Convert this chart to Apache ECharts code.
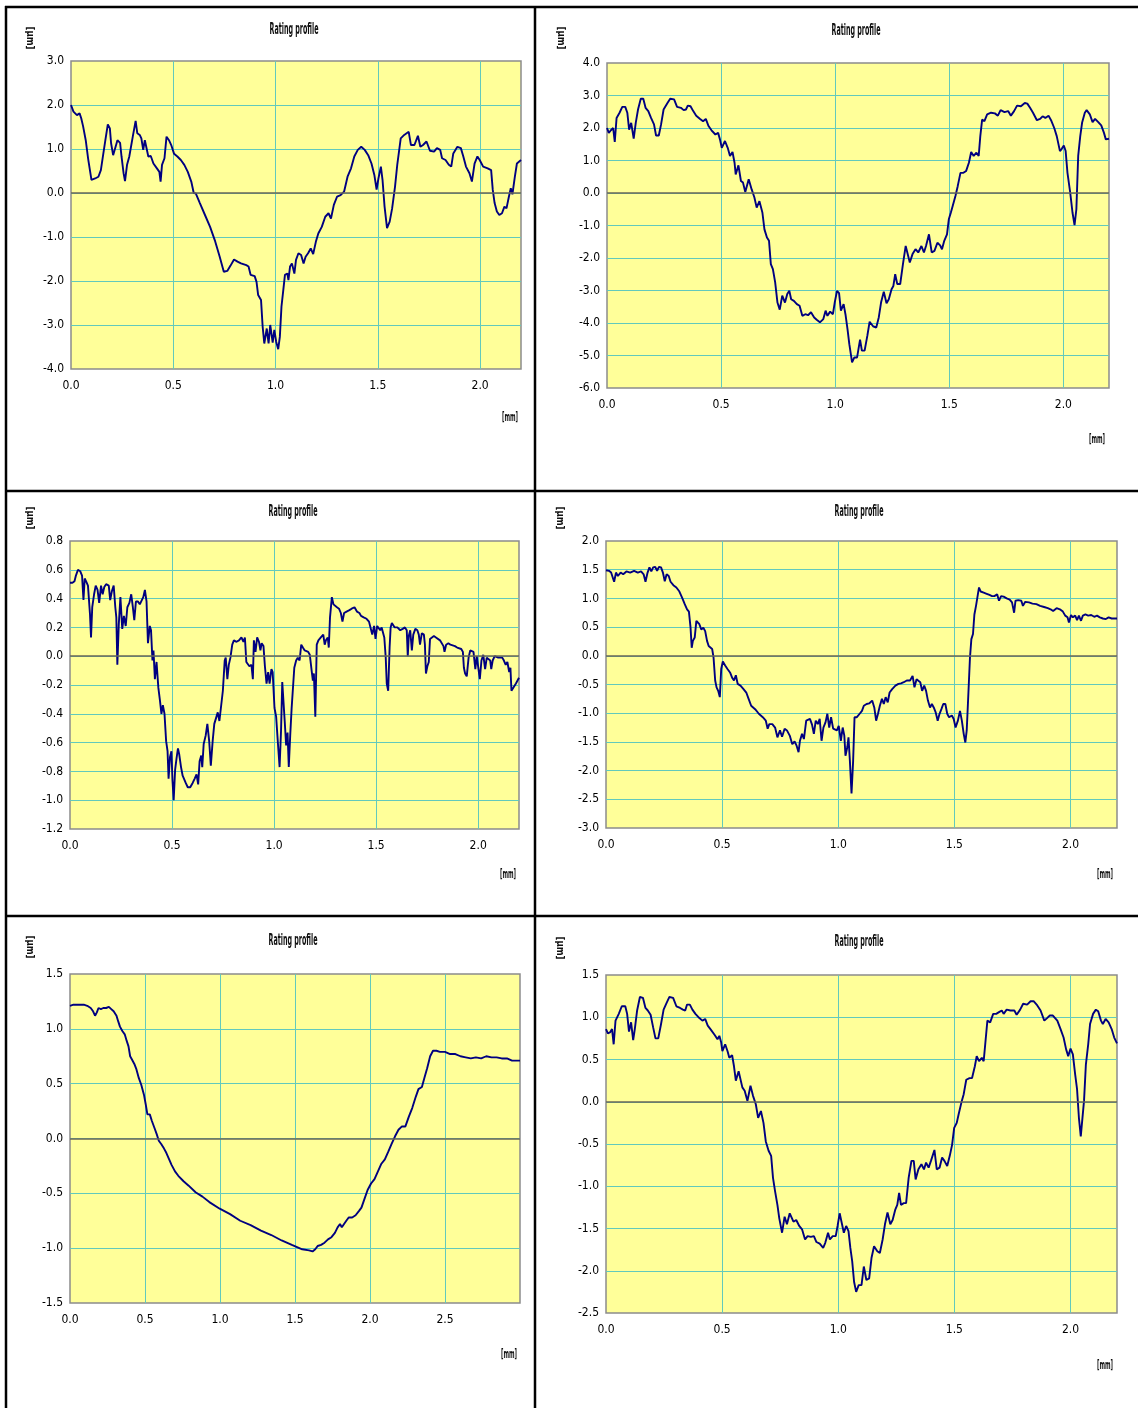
<!DOCTYPE html>
<html>
<head>
<meta charset="utf-8">
<script src="https://cdn.jsdelivr.net/npm/echarts@6/dist/echarts.min.js"></script>
<style>
  html, body { margin: 0; padding: 0; background: #ffffff; }
  #chart { width: 1138px; height: 1408px; }
</style>
</head>
<body>
<div id="chart"></div>
<script>
// Measured roughness profiles: [position mm, height µm]
const profileA = [[0,2.0],[0.012,1.85],[0.029,1.77],[0.042,1.81],[0.05,1.7],[0.059,1.52],[0.072,1.2],[0.084,0.77],[0.092,0.75],[0.1,0.3],[0.118,0.33],[0.134,0.37],[0.146,0.52],[0.156,0.83],[0.168,1.2],[0.18,1.56],[0.19,1.47],[0.196,1.13],[0.206,0.86],[0.218,1.05],[0.227,1.2],[0.24,1.14],[0.247,0.83],[0.257,0.45],[0.264,0.27],[0.274,0.64],[0.285,0.83],[0.302,1.28],[0.316,1.64],[0.324,1.36],[0.336,1.32],[0.344,1.24],[0.353,0.98],[0.361,1.2],[0.37,1.24],[0.378,0.83],[0.39,0.84],[0.403,0.67],[0.42,0.56],[0.432,0.48],[0.438,0.26],[0.445,0.64],[0.457,0.79],[0.467,1.28],[0.479,1.2],[0.49,1.09],[0.504,0.89],[0.52,0.83],[0.537,0.75],[0.554,0.64],[0.571,0.48],[0.588,0.26],[0.6,0.0],[0.61,-0.01],[0.63,-0.23],[0.655,-0.5],[0.68,-0.77],[0.705,-1.1],[0.727,-1.45],[0.747,-1.79],[0.764,-1.77],[0.78,-1.65],[0.797,-1.51],[0.814,-1.56],[0.831,-1.6],[0.857,-1.64],[0.868,-1.67],[0.878,-1.86],[0.898,-1.89],[0.907,-2.02],[0.915,-2.32],[0.929,-2.43],[0.937,-3.04],[0.945,-3.42],[0.957,-3.08],[0.966,-3.42],[0.974,-3.0],[0.986,-3.4],[0.994,-3.11],[1.003,-3.38],[1.013,-3.55],[1.021,-3.27],[1.029,-2.58],[1.038,-2.2],[1.046,-1.86],[1.058,-1.83],[1.063,-1.98],[1.071,-1.67],[1.08,-1.6],[1.092,-1.83],[1.1,-1.52],[1.112,-1.37],[1.125,-1.41],[1.137,-1.6],[1.147,-1.45],[1.159,-1.37],[1.172,-1.26],[1.184,-1.39],[1.197,-1.11],[1.209,-0.92],[1.226,-0.77],[1.243,-0.54],[1.259,-0.46],[1.271,-0.58],[1.285,-0.27],[1.301,-0.08],[1.318,-0.05],[1.335,0.03],[1.352,0.37],[1.369,0.56],[1.385,0.83],[1.402,0.98],[1.419,1.05],[1.436,0.98],[1.453,0.86],[1.469,0.67],[1.483,0.41],[1.494,0.08],[1.503,0.33],[1.515,0.6],[1.523,0.3],[1.533,-0.31],[1.545,-0.8],[1.558,-0.65],[1.57,-0.35],[1.584,0.14],[1.595,0.64],[1.612,1.24],[1.629,1.32],[1.651,1.39],[1.662,1.09],[1.679,1.09],[1.696,1.3],[1.708,1.05],[1.721,1.09],[1.738,1.17],[1.755,0.96],[1.775,0.94],[1.789,1.02],[1.805,0.98],[1.814,0.79],[1.831,0.75],[1.847,0.64],[1.859,0.6],[1.869,0.9],[1.889,1.05],[1.906,1.02],[1.918,0.83],[1.931,0.6],[1.948,0.45],[1.96,0.26],[1.973,0.67],[1.987,0.83],[1.998,0.75],[2.015,0.6],[2.037,0.56],[2.054,0.52],[2.062,0.07],[2.071,-0.23],[2.082,-0.42],[2.094,-0.5],[2.107,-0.46],[2.119,-0.31],[2.129,-0.35],[2.141,-0.08],[2.15,0.11],[2.158,-0.03],[2.17,0.37],[2.18,0.67],[2.2,0.75]];

const profileB = [[0,2.0],[0.008,1.85],[0.017,1.93],[0.027,2.0],[0.034,1.57],[0.042,2.31],[0.055,2.47],[0.067,2.65],[0.08,2.65],[0.089,2.47],[0.097,1.95],[0.106,2.16],[0.117,1.67],[0.126,2.16],[0.136,2.57],[0.148,2.9],[0.159,2.9],[0.169,2.62],[0.181,2.52],[0.193,2.31],[0.206,2.11],[0.215,1.77],[0.227,1.77],[0.237,2.11],[0.248,2.57],[0.265,2.77],[0.277,2.9],[0.294,2.88],[0.307,2.65],[0.324,2.62],[0.336,2.55],[0.346,2.57],[0.354,2.69],[0.366,2.67],[0.378,2.52],[0.391,2.38],[0.408,2.28],[0.421,2.21],[0.433,2.28],[0.445,2.06],[0.458,1.93],[0.475,1.8],[0.487,1.85],[0.495,1.65],[0.503,1.39],[0.517,1.6],[0.529,1.39],[0.539,1.14],[0.55,1.26],[0.559,0.93],[0.564,0.57],[0.576,0.85],[0.587,0.37],[0.596,0.32],[0.606,0.03],[0.621,0.42],[0.634,0.11],[0.646,-0.14],[0.656,-0.45],[0.668,-0.25],[0.681,-0.6],[0.69,-1.12],[0.701,-1.37],[0.71,-1.47],[0.718,-2.19],[0.727,-2.34],[0.737,-2.75],[0.747,-3.37],[0.757,-3.59],[0.768,-3.16],[0.78,-3.37],[0.79,-3.11],[0.799,-3.01],[0.807,-3.27],[0.819,-3.32],[0.832,-3.42],[0.844,-3.47],[0.856,-3.78],[0.869,-3.73],[0.881,-3.76],[0.894,-3.67],[0.908,-3.83],[0.919,-3.9],[0.933,-3.98],[0.948,-3.88],[0.958,-3.62],[0.966,-3.78],[0.978,-3.65],[0.99,-3.73],[0.998,-3.37],[1.008,-3.01],[1.017,-3.08],[1.025,-3.62],[1.037,-3.42],[1.045,-3.73],[1.054,-4.19],[1.062,-4.65],[1.074,-5.21],[1.084,-5.06],[1.096,-5.06],[1.109,-4.51],[1.117,-4.85],[1.129,-4.85],[1.141,-4.39],[1.151,-3.96],[1.166,-4.1],[1.18,-4.14],[1.191,-3.83],[1.201,-3.37],[1.213,-3.04],[1.225,-3.39],[1.235,-3.27],[1.247,-2.96],[1.255,-2.86],[1.263,-2.5],[1.272,-2.8],[1.285,-2.8],[1.297,-2.19],[1.309,-1.63],[1.317,-1.58],[1.327,-2.14],[1.339,-1.88],[1.352,-1.73],[1.364,-1.83],[1.378,-1.63],[1.389,-1.83],[1.398,-1.63],[1.411,-1.27],[1.423,-1.83],[1.435,-1.78],[1.448,-1.53],[1.46,-1.61],[1.468,-1.73],[1.478,-1.47],[1.49,-1.27],[1.498,-0.81],[1.507,-0.6],[1.515,-0.4],[1.527,-0.09],[1.537,0.21],[1.549,0.62],[1.562,0.62],[1.574,0.68],[1.586,0.93],[1.596,1.26],[1.607,1.14],[1.619,1.24],[1.629,1.14],[1.636,1.75],[1.644,2.26],[1.654,2.21],[1.666,2.42],[1.683,2.47],[1.7,2.45],[1.713,2.38],[1.725,2.55],[1.742,2.49],[1.758,2.52],[1.77,2.38],[1.784,2.52],[1.797,2.69],[1.814,2.67],[1.831,2.77],[1.842,2.75],[1.854,2.62],[1.867,2.47],[1.884,2.24],[1.898,2.28],[1.909,2.36],[1.921,2.31],[1.935,2.38],[1.946,2.24],[1.96,2.0],[1.971,1.75],[1.985,1.29],[1.993,1.36],[2.002,1.46],[2.01,1.29],[2.018,0.62],[2.03,0.01],[2.04,-0.6],[2.049,-0.99],[2.057,-0.5],[2.065,1.14],[2.074,1.75],[2.082,2.16],[2.094,2.47],[2.102,2.55],[2.116,2.42],[2.128,2.18],[2.139,2.28],[2.153,2.18],[2.166,2.08],[2.178,1.85],[2.186,1.65],[2.2,1.67]];

const profileC = [[0,0.51],[0.012,0.51],[0.022,0.52],[0.029,0.56],[0.039,0.6],[0.05,0.59],[0.059,0.56],[0.066,0.39],[0.072,0.54],[0.079,0.52],[0.088,0.49],[0.093,0.48],[0.098,0.29],[0.103,0.13],[0.109,0.34],[0.118,0.43],[0.126,0.49],[0.135,0.46],[0.143,0.37],[0.152,0.49],[0.16,0.43],[0.168,0.48],[0.177,0.5],[0.19,0.49],[0.197,0.39],[0.205,0.45],[0.214,0.49],[0.222,0.34],[0.227,0.27],[0.232,-0.06],[0.239,0.22],[0.247,0.41],[0.256,0.19],[0.264,0.28],[0.273,0.21],[0.281,0.34],[0.291,0.37],[0.3,0.43],[0.308,0.34],[0.315,0.25],[0.323,0.38],[0.333,0.38],[0.342,0.36],[0.35,0.35],[0.359,0.41],[0.367,0.46],[0.375,0.38],[0.382,0.09],[0.391,0.21],[0.397,0.18],[0.404,-0.03],[0.409,0.04],[0.416,-0.16],[0.424,-0.04],[0.433,-0.22],[0.441,-0.31],[0.448,-0.4],[0.455,-0.34],[0.463,-0.4],[0.471,-0.59],[0.478,-0.66],[0.483,-0.85],[0.49,-0.7],[0.497,-0.66],[0.502,-0.86],[0.508,-1.0],[0.515,-0.79],[0.522,-0.71],[0.529,-0.64],[0.535,-0.68],[0.544,-0.77],[0.552,-0.83],[0.559,-0.84],[0.567,-0.88],[0.577,-0.91],[0.589,-0.91],[0.601,-0.88],[0.611,-0.85],[0.62,-0.82],[0.628,-0.89],[0.635,-0.73],[0.643,-0.69],[0.648,-0.77],[0.655,-0.61],[0.665,-0.55],[0.673,-0.47],[0.682,-0.59],[0.69,-0.76],[0.699,-0.59],[0.707,-0.47],[0.715,-0.46],[0.724,-0.39],[0.732,-0.45],[0.741,-0.45],[0.749,-0.24],[0.758,-0.03],[0.763,-0.01],[0.771,-0.16],[0.778,-0.06],[0.786,-0.01],[0.795,0.08],[0.803,0.11],[0.816,0.1],[0.828,0.11],[0.84,0.13],[0.85,0.1],[0.857,0.13],[0.864,-0.04],[0.87,-0.03],[0.879,-0.07],[0.889,-0.06],[0.896,-0.16],[0.901,0.11],[0.909,0.03],[0.917,0.13],[0.926,0.1],[0.933,0.04],[0.939,0.09],[0.948,0.07],[0.955,-0.07],[0.963,-0.19],[0.971,-0.11],[0.978,-0.19],[0.987,-0.09],[0.993,-0.11],[1.002,-0.36],[1.01,-0.42],[1.019,-0.61],[1.027,-0.77],[1.034,-0.52],[1.04,-0.18],[1.047,-0.17],[1.052,-0.45],[1.059,-0.62],[1.066,-0.53],[1.072,-0.77],[1.079,-0.55],[1.086,-0.36],[1.093,-0.37],[1.099,-0.08],[1.108,-0.03],[1.116,-0.01],[1.125,-0.03],[1.133,0.08],[1.141,0.06],[1.15,0.04],[1.158,0.05],[1.167,0.03],[1.175,0.01],[1.184,-0.1],[1.19,-0.17],[1.195,-0.12],[1.202,-0.42],[1.209,0.08],[1.217,0.11],[1.229,0.13],[1.241,0.15],[1.248,0.08],[1.254,0.11],[1.263,0.13],[1.268,0.06],[1.274,0.27],[1.283,0.41],[1.291,0.36],[1.3,0.37],[1.308,0.34],[1.318,0.33],[1.327,0.3],[1.335,0.24],[1.343,0.3],[1.355,0.31],[1.369,0.32],[1.38,0.33],[1.394,0.34],[1.406,0.31],[1.418,0.3],[1.426,0.28],[1.439,0.27],[1.453,0.26],[1.465,0.24],[1.473,0.23],[1.481,0.15],[1.49,0.21],[1.497,0.12],[1.505,0.21],[1.512,0.22],[1.52,0.18],[1.527,0.2],[1.534,0.19],[1.54,0.13],[1.547,-0.01],[1.552,-0.19],[1.559,-0.24],[1.566,0.06],[1.571,0.2],[1.577,0.23],[1.591,0.2],[1.604,0.2],[1.618,0.18],[1.63,0.19],[1.641,0.2],[1.65,0.18],[1.655,0.0],[1.66,0.14],[1.667,0.18],[1.675,0.04],[1.682,0.15],[1.692,0.19],[1.702,0.18],[1.709,0.15],[1.715,0.08],[1.724,0.16],[1.734,0.15],[1.739,0.08],[1.744,-0.12],[1.751,-0.07],[1.758,-0.04],[1.764,0.12],[1.771,0.13],[1.783,0.14],[1.793,0.13],[1.801,0.13],[1.813,0.11],[1.822,0.11],[1.83,0.07],[1.835,0.03],[1.843,0.08],[1.854,0.09],[1.864,0.08],[1.873,0.08],[1.886,0.07],[1.897,0.06],[1.906,0.07],[1.917,0.05],[1.925,0.03],[1.93,-0.08],[1.936,-0.12],[1.944,-0.14],[1.953,-0.01],[1.961,0.04],[1.97,0.04],[1.977,0.03],[1.986,-0.09],[1.993,0.0],[2.0,0.01],[2.008,-0.16],[2.016,-0.03],[2.025,0.01],[2.034,-0.09],[2.042,-0.01],[2.05,0.0],[2.059,-0.03],[2.064,-0.09],[2.071,-0.03],[2.081,0.0],[2.089,-0.01],[2.098,-0.01],[2.108,-0.01],[2.118,-0.01],[2.126,-0.03],[2.135,-0.06],[2.143,-0.04],[2.152,-0.11],[2.158,-0.08],[2.163,-0.24],[2.172,-0.25],[2.185,-0.19],[2.2,-0.15]];

const profileD = [[0,1.49],[0.013,1.48],[0.022,1.45],[0.03,1.47],[0.035,1.29],[0.043,1.45],[0.051,1.39],[0.063,1.45],[0.074,1.42],[0.088,1.47],[0.104,1.45],[0.121,1.48],[0.137,1.45],[0.151,1.47],[0.162,1.42],[0.17,1.29],[0.179,1.45],[0.187,1.54],[0.195,1.47],[0.203,1.54],[0.212,1.55],[0.22,1.48],[0.228,1.55],[0.237,1.54],[0.245,1.45],[0.253,1.3],[0.261,1.42],[0.27,1.39],[0.278,1.29],[0.29,1.23],[0.303,1.19],[0.316,1.12],[0.328,1.01],[0.339,0.9],[0.349,0.81],[0.357,0.77],[0.364,0.49],[0.369,0.14],[0.374,0.26],[0.382,0.32],[0.389,0.61],[0.395,0.58],[0.402,0.55],[0.41,0.46],[0.419,0.49],[0.427,0.43],[0.435,0.26],[0.442,0.17],[0.448,0.2],[0.457,0.12],[0.463,-0.03],[0.47,-0.43],[0.476,-0.55],[0.483,-0.61],[0.49,-0.72],[0.496,-0.23],[0.503,-0.1],[0.513,-0.17],[0.523,-0.23],[0.534,-0.29],[0.543,-0.38],[0.551,-0.43],[0.559,-0.34],[0.567,-0.49],[0.579,-0.52],[0.592,-0.58],[0.604,-0.64],[0.614,-0.75],[0.625,-0.87],[0.642,-0.93],[0.658,-1.01],[0.675,-1.07],[0.688,-1.13],[0.696,-1.27],[0.703,-1.19],[0.716,-1.19],[0.728,-1.25],[0.738,-1.42],[0.749,-1.3],[0.758,-1.41],[0.769,-1.27],[0.779,-1.3],[0.791,-1.39],[0.802,-1.54],[0.812,-1.49],[0.82,-1.56],[0.829,-1.68],[0.835,-1.48],[0.844,-1.36],[0.852,-1.45],[0.862,-1.13],[0.87,-1.16],[0.878,-1.1],[0.887,-1.2],[0.895,-1.36],[0.903,-1.13],[0.912,-1.19],[0.92,-1.1],[0.928,-1.48],[0.936,-1.25],[0.945,-1.16],[0.953,-1.01],[0.961,-1.25],[0.969,-1.07],[0.978,-1.27],[0.986,-1.25],[0.994,-1.3],[1.002,-1.22],[1.011,-1.48],[1.019,-1.25],[1.026,-1.39],[1.031,-1.74],[1.039,-1.59],[1.044,-1.42],[1.05,-1.83],[1.057,-2.4],[1.064,-1.83],[1.07,-1.07],[1.08,-1.07],[1.092,-1.01],[1.102,-0.96],[1.11,-0.87],[1.122,-0.84],[1.133,-0.83],[1.146,-0.78],[1.155,-0.9],[1.163,-1.13],[1.171,-1.01],[1.179,-0.87],[1.188,-0.75],[1.196,-0.84],[1.204,-0.72],[1.213,-0.81],[1.221,-0.64],[1.232,-0.58],[1.246,-0.52],[1.259,-0.49],[1.27,-0.48],[1.282,-0.46],[1.295,-0.43],[1.309,-0.43],[1.32,-0.35],[1.328,-0.55],[1.337,-0.41],[1.345,-0.41],[1.353,-0.46],[1.361,-0.61],[1.37,-0.52],[1.378,-0.61],[1.386,-0.78],[1.395,-0.9],[1.403,-0.84],[1.411,-0.9],[1.419,-0.98],[1.428,-1.13],[1.436,-1.01],[1.444,-0.93],[1.452,-0.84],[1.461,-0.84],[1.469,-1.01],[1.477,-1.07],[1.489,-1.04],[1.497,-1.1],[1.505,-1.25],[1.515,-1.13],[1.524,-0.96],[1.532,-1.13],[1.54,-1.36],[1.547,-1.51],[1.553,-1.3],[1.56,-0.67],[1.567,-0.03],[1.573,0.29],[1.58,0.38],[1.586,0.72],[1.593,0.87],[1.601,1.07],[1.606,1.19],[1.613,1.12],[1.626,1.1],[1.639,1.08],[1.651,1.06],[1.662,1.04],[1.672,1.04],[1.684,1.07],[1.692,0.96],[1.701,1.04],[1.712,1.03],[1.725,1.0],[1.738,0.98],[1.748,0.93],[1.757,0.75],[1.763,0.96],[1.775,0.97],[1.788,0.96],[1.795,0.87],[1.805,0.94],[1.821,0.93],[1.836,0.91],[1.853,0.9],[1.869,0.87],[1.886,0.85],[1.902,0.83],[1.914,0.81],[1.925,0.78],[1.94,0.83],[1.954,0.81],[1.967,0.77],[1.977,0.7],[1.987,0.67],[1.993,0.58],[2.002,0.71],[2.01,0.67],[2.02,0.7],[2.028,0.62],[2.036,0.7],[2.045,0.61],[2.053,0.7],[2.064,0.72],[2.076,0.7],[2.089,0.71],[2.102,0.68],[2.114,0.7],[2.126,0.67],[2.139,0.65],[2.152,0.64],[2.164,0.67],[2.177,0.65],[2.2,0.65]];

const profileE = [[0,1.21],[0.023,1.22],[0.046,1.22],[0.069,1.22],[0.092,1.22],[0.115,1.21],[0.138,1.19],[0.154,1.16],[0.167,1.12],[0.179,1.15],[0.19,1.19],[0.206,1.18],[0.222,1.19],[0.241,1.19],[0.259,1.2],[0.275,1.18],[0.291,1.16],[0.31,1.12],[0.321,1.07],[0.333,1.02],[0.349,0.98],[0.365,0.95],[0.378,0.89],[0.39,0.84],[0.401,0.75],[0.413,0.72],[0.429,0.68],[0.443,0.63],[0.459,0.55],[0.475,0.49],[0.493,0.4],[0.505,0.31],[0.516,0.22],[0.532,0.22],[0.546,0.16],[0.562,0.1],[0.578,0.04],[0.592,-0.02],[0.608,-0.05],[0.626,-0.09],[0.642,-0.13],[0.661,-0.19],[0.677,-0.24],[0.7,-0.3],[0.722,-0.34],[0.757,-0.39],[0.791,-0.43],[0.837,-0.49],[0.883,-0.53],[0.929,-0.58],[0.998,-0.64],[1.067,-0.69],[1.135,-0.75],[1.204,-0.79],[1.273,-0.84],[1.342,-0.88],[1.411,-0.93],[1.479,-0.97],[1.548,-1.01],[1.594,-1.02],[1.617,-1.03],[1.635,-1.01],[1.651,-0.98],[1.674,-0.97],[1.697,-0.95],[1.72,-0.92],[1.743,-0.9],[1.766,-0.86],[1.784,-0.81],[1.8,-0.78],[1.812,-0.81],[1.823,-0.8],[1.842,-0.75],[1.858,-0.72],[1.881,-0.72],[1.904,-0.7],[1.927,-0.66],[1.943,-0.63],[1.961,-0.56],[1.984,-0.47],[2.007,-0.41],[2.03,-0.37],[2.053,-0.3],[2.076,-0.23],[2.099,-0.19],[2.122,-0.12],[2.144,-0.05],[2.167,0.02],[2.19,0.08],[2.213,0.11],[2.236,0.11],[2.259,0.2],[2.282,0.28],[2.305,0.38],[2.323,0.45],[2.346,0.47],[2.362,0.55],[2.381,0.64],[2.401,0.75],[2.42,0.8],[2.443,0.8],[2.466,0.79],[2.5,0.79],[2.534,0.77],[2.569,0.77],[2.603,0.75],[2.638,0.74],[2.672,0.73],[2.706,0.74],[2.741,0.73],[2.775,0.75],[2.81,0.74],[2.844,0.74],[2.878,0.73],[2.913,0.73],[2.947,0.71],[3.0,0.71]];

const profileF = [[0,0.86],[0.008,0.81],[0.017,0.82],[0.026,0.86],[0.033,0.68],[0.041,0.96],[0.055,1.04],[0.068,1.13],[0.083,1.13],[0.091,1.04],[0.099,0.83],[0.108,0.94],[0.117,0.73],[0.124,0.86],[0.134,1.08],[0.146,1.24],[0.159,1.23],[0.17,1.11],[0.18,1.08],[0.192,1.03],[0.203,0.88],[0.213,0.75],[0.225,0.75],[0.237,0.92],[0.248,1.09],[0.261,1.17],[0.273,1.24],[0.289,1.23],[0.303,1.13],[0.319,1.11],[0.331,1.09],[0.341,1.08],[0.349,1.15],[0.361,1.15],[0.372,1.09],[0.385,1.04],[0.402,0.99],[0.415,0.96],[0.427,0.98],[0.438,0.9],[0.452,0.85],[0.468,0.79],[0.48,0.74],[0.488,0.78],[0.496,0.7],[0.501,0.6],[0.513,0.68],[0.523,0.6],[0.531,0.52],[0.543,0.55],[0.551,0.42],[0.559,0.25],[0.571,0.36],[0.579,0.34],[0.587,0.17],[0.597,0.13],[0.609,0.01],[0.622,0.19],[0.633,0.07],[0.645,-0.03],[0.655,-0.19],[0.667,-0.11],[0.678,-0.25],[0.688,-0.47],[0.7,-0.58],[0.711,-0.64],[0.719,-0.9],[0.728,-1.06],[0.738,-1.22],[0.746,-1.38],[0.758,-1.55],[0.769,-1.36],[0.779,-1.45],[0.791,-1.32],[0.799,-1.3],[0.807,-1.42],[0.819,-1.4],[0.832,-1.47],[0.844,-1.51],[0.857,-1.63],[0.868,-1.59],[0.882,-1.6],[0.895,-1.59],[0.906,-1.66],[0.92,-1.68],[0.935,-1.73],[0.944,-1.67],[0.956,-1.55],[0.964,-1.63],[0.976,-1.59],[0.989,-1.59],[0.997,-1.47],[1.006,-1.32],[1.014,-1.3],[1.024,-1.55],[1.034,-1.47],[1.044,-1.53],[1.052,-1.73],[1.06,-1.89],[1.068,-2.13],[1.077,-2.25],[1.088,-2.17],[1.1,-2.17],[1.11,-1.95],[1.121,-2.11],[1.133,-2.09],[1.143,-1.85],[1.154,-1.71],[1.168,-1.77],[1.179,-1.79],[1.191,-1.63],[1.201,-1.45],[1.212,-1.31],[1.224,-1.45],[1.234,-1.4],[1.245,-1.28],[1.254,-1.22],[1.262,-1.08],[1.27,-1.22],[1.282,-1.2],[1.292,-1.2],[1.303,-0.9],[1.315,-0.7],[1.325,-0.7],[1.333,-0.92],[1.345,-0.8],[1.358,-0.74],[1.369,-0.8],[1.378,-0.72],[1.389,-0.78],[1.399,-0.7],[1.414,-0.57],[1.424,-0.8],[1.436,-0.78],[1.447,-0.66],[1.457,-0.7],[1.469,-0.76],[1.48,-0.64],[1.49,-0.51],[1.499,-0.31],[1.51,-0.25],[1.518,-0.15],[1.53,-0.01],[1.54,0.09],[1.551,0.26],[1.565,0.28],[1.576,0.28],[1.588,0.42],[1.596,0.54],[1.606,0.48],[1.618,0.52],[1.626,0.48],[1.634,0.72],[1.642,0.96],[1.654,0.94],[1.667,1.04],[1.68,1.04],[1.692,1.06],[1.704,1.08],[1.712,1.04],[1.725,1.09],[1.741,1.08],[1.758,1.08],[1.768,1.03],[1.783,1.09],[1.796,1.16],[1.813,1.15],[1.828,1.19],[1.841,1.19],[1.854,1.15],[1.871,1.08],[1.887,0.96],[1.899,0.99],[1.91,1.02],[1.924,1.02],[1.932,1.04],[1.943,0.96],[1.957,0.86],[1.97,0.76],[1.981,0.62],[1.99,0.54],[2.0,0.63],[2.01,0.56],[2.02,0.32],[2.028,0.15],[2.036,-0.19],[2.044,-0.41],[2.051,-0.39],[2.058,0.01],[2.066,0.44],[2.076,0.68],[2.084,0.92],[2.097,1.04],[2.109,1.09],[2.119,1.07],[2.131,0.96],[2.139,0.92],[2.151,0.98],[2.164,0.94],[2.177,0.86],[2.188,0.76],[2.2,0.69]];

// Axis scales per panel: [min, max, step]
const xScaleA = [0, 2.2, 0.5], yScaleA = [-4, 3, 1];
const xScaleB = [0, 2.2, 0.5], yScaleB = [-6, 4, 1];
const xScaleC = [0, 2.2, 0.5], yScaleC = [-1.2, 0.8, 0.2];
const xScaleD = [0, 2.2, 0.5], yScaleD = [-3, 2, 0.5];
const xScaleE = [0, 3.0, 0.5], yScaleE = [-1.5, 1.5, 0.5];
const xScaleF = [0, 2.2, 0.5], yScaleF = [-2.5, 1.5, 0.5];

const chartTitle = 'Rating profile';
const yUnit = '[\u03bcm]';
const xUnit = '[mm]';

const FONT = '"DejaVu Sans Condensed", "DejaVu Sans", sans-serif';
const LINE_COLOR = '#000080';
const GRID_COLOR = '#62c9bc';
const PLOT_BG = '#ffff99';

// Plot rectangles and text anchors for the 2x3 layout
const panels = [
  { data: profileA, xs: xScaleA, ys: yScaleA, grid: { left: 71, top: 61, width: 450, height: 308 }, title: [294, 30], yu: [30, 38], xu: [510, 418] },
  { data: profileB, xs: xScaleB, ys: yScaleB, grid: { left: 607, top: 63, width: 502, height: 325 }, title: [856, 31], yu: [561, 38], xu: [1097, 440] },
  { data: profileC, xs: xScaleC, ys: yScaleC, grid: { left: 70, top: 541, width: 449, height: 288 }, title: [293, 512], yu: [30, 518], xu: [508, 875] },
  { data: profileD, xs: xScaleD, ys: yScaleD, grid: { left: 606, top: 541, width: 511, height: 287 }, title: [859, 512], yu: [560, 518], xu: [1105, 875] },
  { data: profileE, xs: xScaleE, ys: yScaleE, grid: { left: 70, top: 974, width: 450, height: 329 }, title: [293, 941], yu: [30, 947], xu: [509, 1355] },
  { data: profileF, xs: xScaleF, ys: yScaleF, grid: { left: 606, top: 975, width: 511, height: 338 }, title: [859, 942], yu: [560, 948], xu: [1105, 1366] }
];

// Horizontal squeeze so that annotation text keeps a narrow, condensed look
const measureCtx = document.createElement('canvas').getContext('2d');
function squeeze(text, font, targetWidth) {
  measureCtx.font = font;
  const w = measureCtx.measureText(text).width;
  return w > 0 ? Math.min(1, targetWidth / w) : 1;
}
const TITLE_FONT = 'bold 15px ' + FONT;
const YUNIT_FONT = 'bold 11px ' + FONT;
const XUNIT_FONT = 'bold 13px ' + FONT;
const titleScale = squeeze(chartTitle, TITLE_FONT, 49);
const yUnitScale = squeeze(yUnit, YUNIT_FONT, 23);
const xUnitScale = squeeze(xUnit, XUNIT_FONT, 16);

const labelStyle = { color: '#000', fontFamily: FONT, fontSize: 12 };

const grids = [], xAxes = [], yAxes = [], series = [], graphics = [];

panels.forEach((p, i) => {
  grids.push(Object.assign({
    show: true, backgroundColor: PLOT_BG, borderColor: '#8c8c8c', borderWidth: 1.5, containLabel: false
  }, p.grid));

  xAxes.push({
    type: 'value', gridIndex: i, min: p.xs[0], max: p.xs[1], interval: p.xs[2],
    axisLine: { show: false }, axisTick: { show: false },
    splitLine: { show: true, showMinLine: false, showMaxLine: false, lineStyle: { color: GRID_COLOR, width: 1 } },
    axisLabel: Object.assign({ margin: 11, showMaxLabel: false, formatter: v => v.toFixed(1) }, labelStyle)
  });

  yAxes.push({
    type: 'value', gridIndex: i, min: p.ys[0], max: p.ys[1], interval: p.ys[2],
    axisLine: { show: false }, axisTick: { show: false },
    splitLine: { show: true, showMinLine: false, showMaxLine: false, lineStyle: { color: GRID_COLOR, width: 1 } },
    axisLabel: Object.assign({ margin: 7, formatter: v => v.toFixed(1) }, labelStyle)
  });

  series.push({
    type: 'line', xAxisIndex: i, yAxisIndex: i, data: p.data,
    showSymbol: false, symbol: 'none', smooth: false, animation: false,
    lineStyle: { color: LINE_COLOR, width: 1.9 },
    markLine: {
      silent: true, symbol: 'none', animation: false,
      label: { show: false },
      lineStyle: { color: '#6b6656', width: 1.5, type: 'solid' },
      data: [{ yAxis: 0 }]
    }
  });

  graphics.push({
    type: 'text', x: p.title[0], y: p.title[1], scaleX: titleScale,
    style: { text: chartTitle, fill: '#111', font: TITLE_FONT, align: 'center', verticalAlign: 'middle' }
  });
  graphics.push({
    type: 'text', x: p.yu[0], y: p.yu[1], rotation: -Math.PI / 2, scaleX: yUnitScale,
    style: { text: yUnit, fill: '#111', font: YUNIT_FONT, align: 'center', verticalAlign: 'middle' }
  });
  graphics.push({
    type: 'text', x: p.xu[0], y: p.xu[1], scaleX: xUnitScale,
    style: { text: xUnit, fill: '#111', font: XUNIT_FONT, align: 'center', verticalAlign: 'middle' }
  });
});

// Frame separating the six panels
const frame = { stroke: '#000', lineWidth: 2.5 };
[
  [5, 7, 1138, 7],
  [6, 6, 6, 1408],
  [535, 6, 535, 1408],
  [5, 491, 1138, 491],
  [5, 916, 1138, 916]
].forEach(s => graphics.push({ type: 'line', shape: { x1: s[0], y1: s[1], x2: s[2], y2: s[3] }, style: frame, z: 100 }));

const chart = echarts.init(document.getElementById('chart'), null, { renderer: 'canvas' });
chart.setOption({
  animation: false,
  backgroundColor: '#ffffff',
  grid: grids,
  xAxis: xAxes,
  yAxis: yAxes,
  series: series,
  graphic: graphics
});
</script>
</body>
</html>
